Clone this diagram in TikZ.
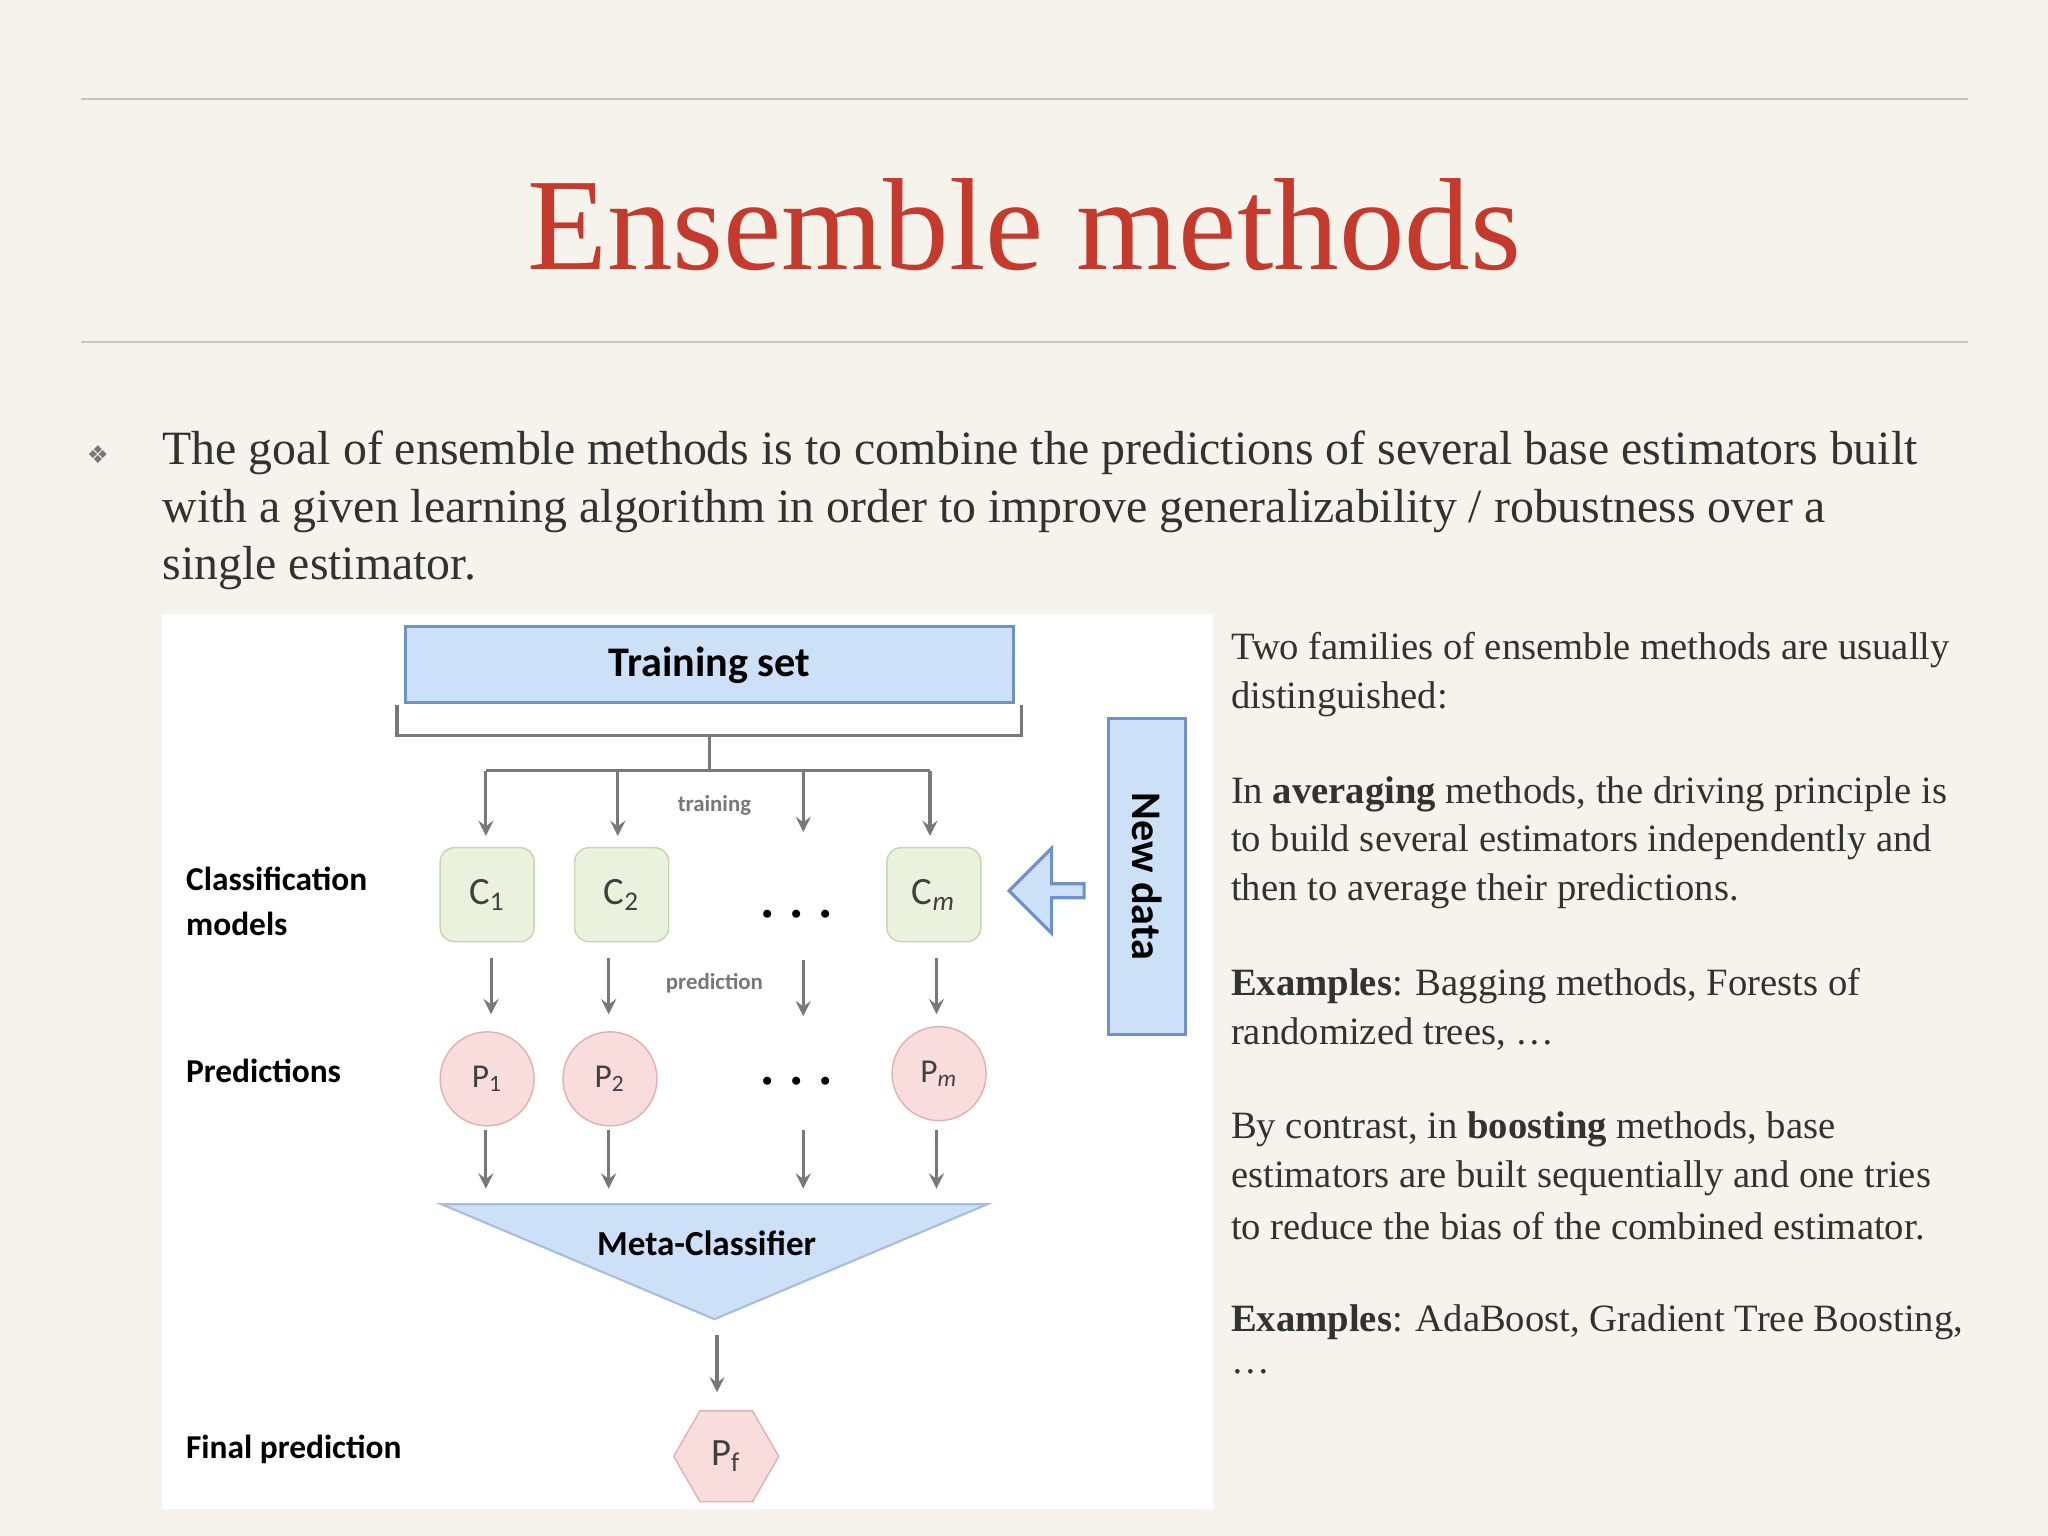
\documentclass[tikz,border=0pt]{standalone}
\usepackage{fontspec}
\setmainfont{Liberation Serif}
\newfontfamily\diagfont{Carlito}
\newfontfamily\symfont{DejaVu Sans}
\usetikzlibrary{shapes.geometric, shapes.arrows, calc}
\definecolor{slidebg}{RGB}{245,243,236}
\definecolor{titlered}{RGB}{196,58,44}
\definecolor{rulegray}{RGB}{200,198,192}
\definecolor{boxblue}{RGB}{204,224,247}
\definecolor{lineblue}{RGB}{110,145,200}
\definecolor{cgreen}{RGB}{234,242,221}
\definecolor{cgreenline}{RGB}{196,214,172}
\definecolor{ppink}{RGB}{249,220,220}
\definecolor{ppinkline}{RGB}{226,176,176}
\definecolor{arrgray}{RGB}{120,120,120}
\definecolor{txtgray}{RGB}{50,50,50}
\newcommand{\sub}[1]{\textsubscript{#1}}
\begin{document}
\begin{tikzpicture}[x=0.013061cm, y=-0.013061cm]
	\tikzset{
		bodytext/.style={anchor=west, inner sep=0pt, text=txtgray, font=\fontsize{13.6}{16}\selectfont},
		sidetext/.style={anchor=west, inner sep=0pt, text=txtgray, font=\fontsize{11}{13}\selectfont},
		lbl/.style={anchor=west, inner sep=0pt, font=\diagfont\bfseries\fontsize{9.5}{11}\selectfont},
		small/.style={inner sep=0pt, text=arrgray, font=\diagfont\bfseries\fontsize{6.5}{8}\selectfont},
		cbox/.style={draw=cgreenline, fill=cgreen, rounded corners=4pt, minimum width=0.94cm, minimum height=0.94cm, font=\diagfont\fontsize{11}{12}\selectfont, text=black!75},
		pcirc/.style={circle, draw=ppinkline, fill=ppink, minimum size=0.94cm, inner sep=0pt, font=\diagfont\fontsize{9.5}{11}\selectfont, text=black!75},
		garrow/.style={->, >=stealth, draw=arrgray, line width=0.9pt},
		dots/.style={inner sep=0pt, font=\fontsize{14}{14}\selectfont\bfseries}
	}
	% background
	\fill[slidebg] (0,0) rectangle (1568,1176);
	\draw[rulegray, line width=0.6pt] (62,76) -- (1507,76);
	\draw[rulegray, line width=0.6pt] (62,262) -- (1507,262);
	\node[text=titlered, font=\fontsize{37.3}{42}\selectfont] (title) at (784,172) {Ensemble methods};
	% bullet text
	\node[text=arrgray, font=\symfont\fontsize{7}{8}\selectfont] (bullet) at (75,348) {❖};
	\node[bodytext] (l1) at (124,347) {The goal of ensemble methods is to combine the predictions of several base estimators built};
	\node[bodytext] (l2) at (124,391) {with a given learning algorithm in order to improve generalizability / robustness over a};
	\node[bodytext] (l3) at (124,435) {single estimator.};
	% diagram
	\fill[white] (124,470) rectangle (929,1155);
	\node[draw=lineblue, fill=boxblue, line width=0.9pt, minimum width=6.08cm, minimum height=0.76cm, font=\diagfont\bfseries\fontsize{12}{13}\selectfont] (train) at (543,509) {Training set};
	\draw[arrgray, line width=0.9pt] (304,540) -- (304,563) -- (782,563) -- (782,540);
	\coordinate (bt) at (543,563);
	\coordinate (bb) at (543,590);
	\draw[arrgray, line width=0.9pt] (bt) -- (bb);
	\draw[arrgray, line width=0.9pt] (372,590) -- (712,590);
	\node[cbox] (c1) at (373,685) {C\sub{1}};
	\node[cbox] (c2) at (476,685) {C\sub{2}};
	\node[cbox] (cm) at (715,685) {C\sub{\textit{m}}};
	\node[dots] (cdots) at (610,700) {.\,\,.\,\,.};
	\coordinate (tdots) at (615,637);
	\foreach \x in {372, 473, 712}
		\draw[garrow] (\x,590) -- (\x,640);
	\draw[garrow] (615,590) -- (tdots);
	\node[small] (trlbl) at (547,617) {training};
	% new data
	\node[draw=lineblue, fill=boxblue, line width=0.9pt, minimum width=3.16cm, minimum height=0.77cm, rotate=-90, font=\diagfont\bfseries\fontsize{12}{13}\selectfont] (newdata) at (878,671) {New data};
	\node[single arrow, shape border rotate=180, draw=lineblue, fill=boxblue, line width=0.9pt, minimum height=0.75cm, minimum width=0.85cm, single arrow head extend=0.08cm, inner sep=0pt] (inarrow) at (804,682) {};
	% predictions
	\node[pcirc] (p1) at (373,826) {P\sub{1}};
	\node[pcirc] (p2) at (467,826) {P\sub{2}};
	\node[pcirc] (pm) at (719,822) {P\sub{\textit{m}}};
	\node[dots] (pdots) at (610,828) {.\,\,.\,\,.};
	\draw[garrow] (c1.south) ++(3,12) -- ++(0,43);
	\draw[garrow] (c2.south) ++(-10,12) -- ++(0,43);
	\draw[garrow] (cm.south) ++(2,12) -- ++(0,43);
	\draw[garrow] (615,735) -- (615,778);
	\node[small] (prlbl) at (547,753) {prediction};
	% meta classifier
	\coordinate (ml) at (338,922);
	\coordinate (mr) at (756,922);
	\coordinate (mb) at (547,1010);
	\fill[boxblue] (ml) -- (mr) -- (mb) -- cycle;
	\draw[lineblue!60, line width=0.6pt] (ml) -- (mr) -- (mb) -- cycle;
	\node[font=\diagfont\bfseries\fontsize{10}{12}\selectfont] (meta) at (541,952) {Meta-Classifier};
	\foreach \x in {372,466,615,717}
		\draw[garrow] (\x,865) -- (\x,910);
	\node[regular polygon, regular polygon sides=6, draw=ppinkline, fill=ppink, minimum size=1.05cm, inner sep=0pt, font=\diagfont\fontsize{11}{12}\selectfont, text=black!75] (pf) at (556,1115) {P\sub{f}};
	\coordinate (pftop) at (549,1066);
	\draw[garrow] (549,1022) -- (pftop);
	% left labels
	\node[lbl] (lclass) at (142,673) {Classification};
	\node[lbl] (lmodels) at (142,707) {models};
	\node[lbl] (lpred) at (142,820) {Predictions};
	\node[lbl] (lfinal) at (142,1110) {Final prediction};
	% right text
	\node[sidetext] (r1) at (942,498) {Two families of ensemble methods are usually};
	\node[sidetext] (r2) at (942,535) {distinguished:};
	\node[sidetext] (r3) at (942,608) {In \textbf{averaging} methods, the driving principle is};
	\node[sidetext] (r4) at (942,645) {to build several estimators independently and};
	\node[sidetext] (r5) at (942,682) {then to average their predictions.};
	\node[sidetext] (r6) at (942,755) {\textbf{Examples}: Bagging methods, Forests of};
	\node[sidetext] (r7) at (942,792) {randomized trees, \dots};
	\node[sidetext] (r8) at (942,865) {By contrast, in \textbf{boosting} methods, base};
	\node[sidetext] (r9) at (942,902) {estimators are built sequentially and one tries};
	\node[sidetext] (r10) at (942,939) {to reduce the bias of the combined estimator.};
	\node[sidetext] (r11) at (942,1012) {\textbf{Examples}: AdaBoost, Gradient Tree Boosting,};
	\node[sidetext] (r12) at (942,1050) {\dots};
\end{tikzpicture}
\end{document}
